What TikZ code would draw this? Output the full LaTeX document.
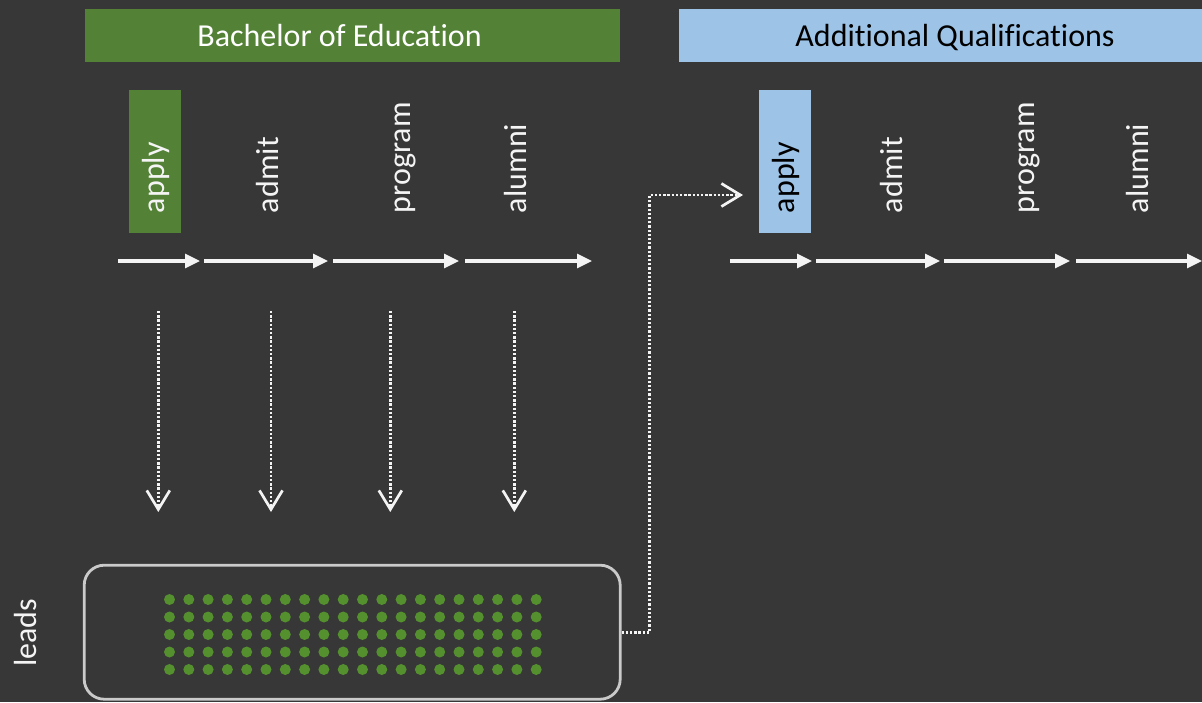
\documentclass[tikz,border=0pt]{standalone}
\usepackage{fontspec}
\setmainfont{Carlito}[Ligatures=NoCommon]
\usetikzlibrary{arrows.meta}
\definecolor{board}{HTML}{373737}
\definecolor{bedgreen}{HTML}{538135}
\definecolor{aqblue}{HTML}{9DC3E6}
\definecolor{chalk}{HTML}{F4F4F4}
\definecolor{frame}{HTML}{CACACA}
\definecolor{leaddot}{HTML}{55902F}

\begin{document}
\begin{tikzpicture}[x=1pt,y=-1pt,
  lbl/.style={font=\fontsize{32}{38}\selectfont},
  header/.style={lbl, minimum height=53pt, inner sep=0pt, text height=21pt, text depth=0pt},
  stage/.style={lbl, rotate=90, minimum height=52pt, inner xsep=20pt, inner ysep=0pt,
    text width=103pt, align=left, text height=22pt, text depth=4pt, text=chalk},
  flow/.style={chalk, line width=3.2pt, -{Triangle[length=15pt,width=14pt]}},
  feed/.style={chalk, line width=2.7pt, dash pattern=on 2.3pt off 1.9pt,
    -{Straight Barb[length=19pt,width=23pt,line width=2.7pt]}},
]
\clip (0,0) rectangle (1202,702);
\fill[board] (0,0) rectangle (1202,702);

% programme headers
\node[header, fill=bedgreen, minimum width=535pt] (bed) at (352.5,35.5) {};
\node[header, text=white] (bedtitle) at (339.5,35.5) {Bachelor of Education};
\node[header, fill=aqblue, text=black, minimum width=552pt] (aq) at (955,35.5) {Additional Qualifications};

% Bachelor of Education stages
\node[stage, fill=bedgreen] (bapply) at (155,161.5) {apply};
\node[stage] (badmit) at (269,161.5) {admit};
\node[stage] (bprogram) at (401,161.5) {program};
\node[stage] (balumni) at (517,161.5) {alumni};

% Additional Qualifications stages
\node[stage, fill=aqblue, text=black] (aapply) at (785,161.5) {apply};
\node[stage] (aadmit) at (893,161.5) {admit};
\node[stage] (aprogram) at (1025,161.5) {program};
\node[stage] (aalumni) at (1139,161.5) {alumni};

% timeline arrows
\foreach \n/\s/\e in {1/118/200, 2/204/328, 3/333/459, 4/465/592} {
  \coordinate (bs\n) at (\s,261);
  \coordinate (be\n) at (\e,261);
  \draw[flow] (bs\n) -- (be\n);
}
\foreach \n/\s/\e in {1/730/812, 2/816/940, 3/944/1070, 4/1076/1202} {
  \coordinate (as\n) at (\s,261);
  \coordinate (ae\n) at (\e,261);
  \draw[flow] (as\n) -- (ae\n);
}

% leads pool
\node[draw=frame, line width=2.8pt, rounded corners=20pt, minimum width=536pt,
  minimum height=134pt, inner sep=0pt] (leads) at (352.2,632.2) {};
\foreach \c in {0,...,19}
  \foreach \r in {0,...,4}
    \fill[leaddot] (169.5+\c*19.3,599.5+\r*17.5) circle (5.5pt);
\node[lbl, text=chalk, rotate=90, anchor=base west, inner sep=0pt] (leadslbl) at (36.5,667) {leads};

% stages feeding the pool
\foreach \n/\x in {1/158.3, 2/271, 3/390.3, 4/514.3} {
  \coordinate (fs\n) at (\x,311);
  \coordinate (fe\n) at (\x,512);
  \draw[feed] (fs\n) -- (fe\n);
}

% pool feeding AQ applications
\coordinate (aqin) at (743,195);
\draw[feed] (leads.east) -- ++(28,0) |- (aqin);
\end{tikzpicture}
\end{document}
